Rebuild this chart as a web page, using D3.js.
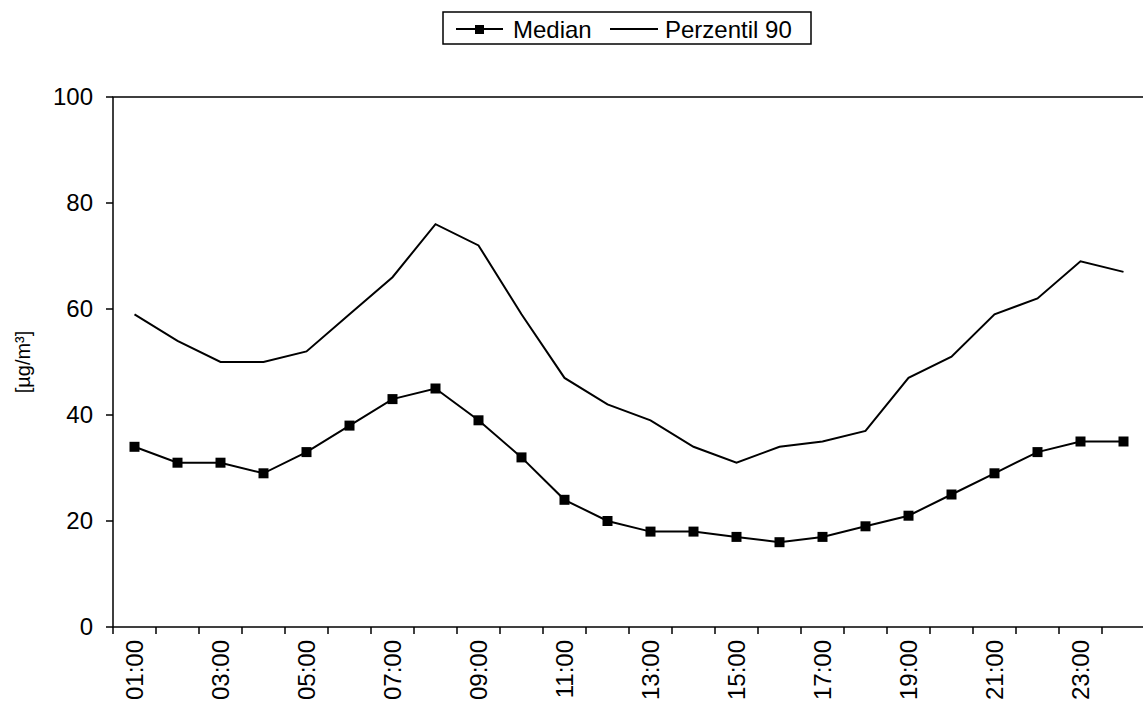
<!DOCTYPE html>
<html><head><meta charset="utf-8">
<script src="https://cdn.jsdelivr.net/npm/d3@7"></script>
<style>body{margin:0;background:#fff;overflow:hidden}text{font-family:Arial,"Liberation Sans",sans-serif}</style>
</head><body>
<script>
const hours = ["01:00","02:00","03:00","04:00","05:00","06:00","07:00","08:00","09:00","10:00","11:00","12:00",
  "13:00","14:00","15:00","16:00","17:00","18:00","19:00","20:00","21:00","22:00","23:00","24:00"];
const median = [34,31,31,29,33,38,43,45,39,32,24,20,18,18,17,16,17,19,21,25,29,33,35,35];
const p90 = [59,54,50,50,52,59,66,76,72,59,47,42,39,34,31,34,35,37,47,51,59,62,69,67];
const yTicks = [0,20,40,60,80,100];

const svg = d3.select("body").append("svg").attr("width",1143).attr("height",713);
const x = d3.scaleBand().domain(hours).range([113,1145]);
const y = d3.scaleLinear().domain([0,100]).range([627,97]);
const cx = d => x(d) + x.bandwidth()/2;

// plot frame (left, bottom, top; right edge is off-canvas)
svg.append("rect").attr("x",113).attr("y",97).attr("width",1032).attr("height",530)
  .attr("fill","none").attr("stroke","#000").attr("stroke-width",1.5);
yTicks.forEach(t => {
  svg.append("line").attr("x1",106).attr("x2",113).attr("y1",y(t)).attr("y2",y(t)).attr("stroke","#000").attr("stroke-width",1.5);
  svg.append("text").attr("x",93).attr("y",y(t)+8).attr("text-anchor","end").attr("font-size",24).text(t);
});
hours.forEach((h,i) => {
  svg.append("line").attr("x1",x(h)).attr("x2",x(h)).attr("y1",627).attr("y2",634).attr("stroke","#000").attr("stroke-width",1.5);
  if (i % 2 === 0)
    svg.append("text").attr("transform",`translate(${cx(h)+8},640) rotate(-90)`)
      .attr("text-anchor","end").attr("font-size",24).text(h);
});
svg.append("text").attr("transform","translate(30,362) rotate(-90)").attr("text-anchor","middle")
  .attr("font-size",20).text("[µg/m³]");

const line = d3.line().x((d,i) => cx(hours[i])).y(d => y(d));
svg.append("path").attr("d",line(p90)).attr("fill","none").attr("stroke","#000").attr("stroke-width",2);
svg.append("path").attr("d",line(median)).attr("fill","none").attr("stroke","#000").attr("stroke-width",2);
svg.selectAll("rect.m").data(median).enter().append("rect")
  .attr("x",(d,i) => cx(hours[i])-5).attr("y",d => y(d)-5).attr("width",10).attr("height",10).attr("fill","#000");

// legend
const lg = svg.append("g");
lg.append("rect").attr("x",443).attr("y",12).attr("width",368).attr("height",32).attr("fill","none").attr("stroke","#000").attr("stroke-width",1.5);
lg.append("line").attr("x1",456).attr("x2",503).attr("y1",29).attr("y2",29).attr("stroke","#000").attr("stroke-width",2);
lg.append("rect").attr("x",475).attr("y",25).attr("width",9).attr("height",9).attr("fill","#000");
lg.append("text").attr("x",513).attr("y",38).attr("font-size",24).text("Median");
lg.append("line").attr("x1",610).attr("x2",658).attr("y1",29).attr("y2",29).attr("stroke","#000").attr("stroke-width",2);
lg.append("text").attr("x",665).attr("y",38).attr("font-size",24).text("Perzentil 90");
</script>
</body></html>
